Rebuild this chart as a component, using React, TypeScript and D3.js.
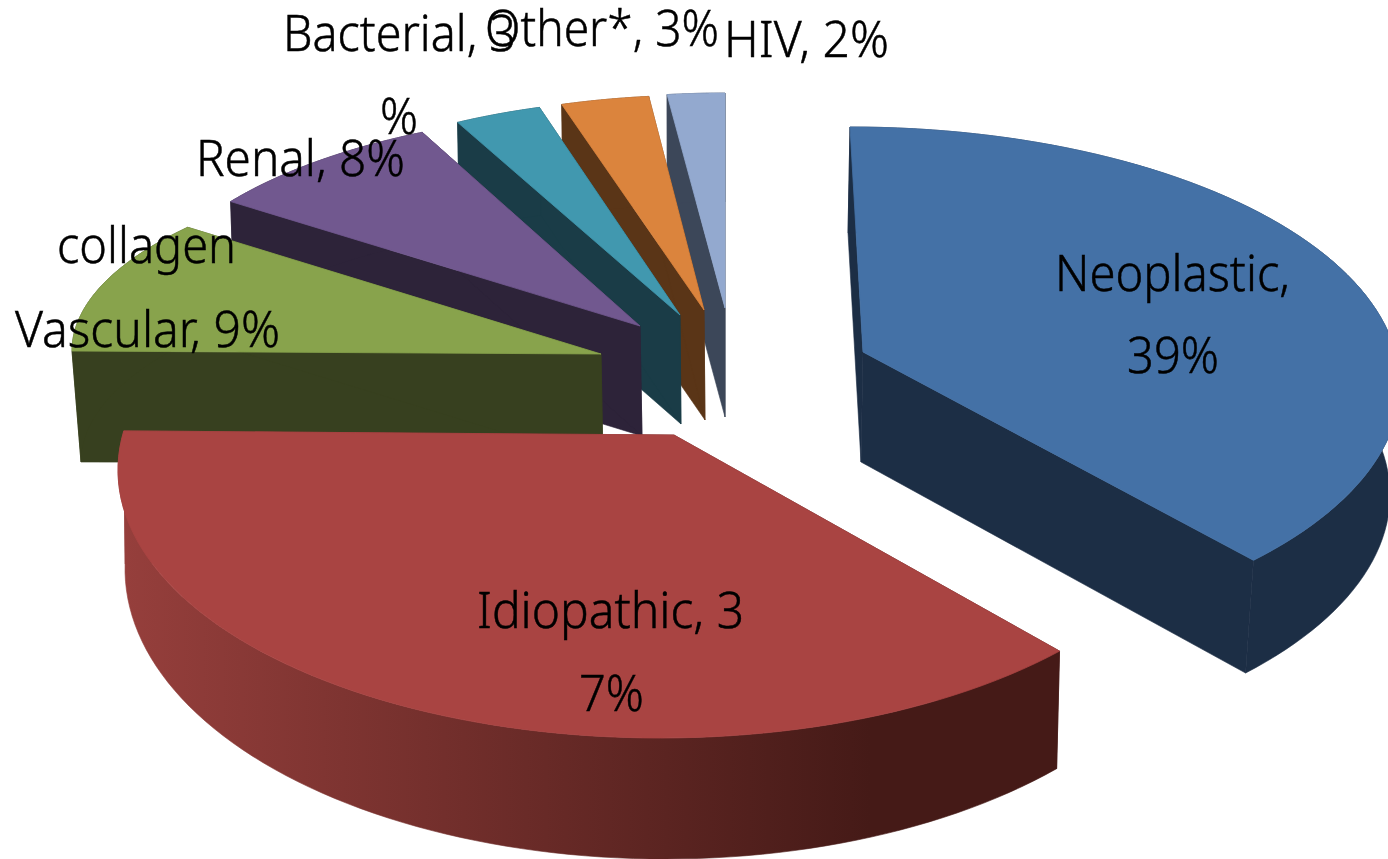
import React from "react";
import * as d3 from "d3";

// ---- data ----
const categories = ["Neoplastic", "Idiopathic", "collagen Vascular", "Renal", "Bacterial", "Other*", "HIV"];
const values = [39, 37, 9, 8, 3, 3, 2];

// ---- colours ----
const topColors = ["#4471a6", "#a94442", "#88a34c", "#71588f", "#4198af", "#db843d", "#93a9cf"];
const sideColors = ["#1c2e45", "url(#redSide)", "#37401f", "#2d2339", "#1a3c47", "#5a3517", "#3c4759"];

// ---- per-slice projection (the picture is a stretched perspective pie) ----
type E = { cx: number; cy: number; rx: number; ry: number };
type Geo = {
  top: E; bottom: E;
  apex: [number, number]; apexBottom: [number, number];
  skew: [number, number]; // degrees added to the pie angles at start / end
  bottomSkew: [number, number]; // extra degrees for the lower rim
};
const geometry: Geo[] = [
  { top: { cx: 850, cy: 385, rx: 550, ry: 258 }, bottom: { cx: 848, cy: 495, rx: 542, ry: 262 }, apex: [863, 352], apexBottom: [861, 462], skew: [0, -6.2], bottomSkew: [0, 0] },
  { top: { cx: 660, cy: 470, rx: 542, ry: 268 }, bottom: { cx: 665, cy: 569, rx: 540, ry: 290 }, apex: [674, 435], apexBottom: [674, 550], skew: [-6.5, 7.5], bottomSkew: [1, -7.4] },
  { top: { cx: 600, cy: 351, rx: 528, ry: 198 }, bottom: { cx: 603, cy: 462, rx: 522, ry: 198 }, apex: [601, 354], apexBottom: [603, 463], skew: [-0.9, 5.7], bottomSkew: [0, 0] },
  { top: { cx: 640, cy: 326, rx: 502, ry: 215 }, bottom: { cx: 642, cy: 435, rx: 500, ry: 215 }, apex: [640, 326], apexBottom: [642, 436], skew: [2.4, 2.8], bottomSkew: [0, 0] },
  { top: { cx: 680, cy: 315, rx: 483, ry: 217 }, bottom: { cx: 681, cy: 423, rx: 481, ry: 217 }, apex: [680, 315], apexBottom: [681, 424], skew: [1.1, 0.9], bottomSkew: [0, 0] },
  { top: { cx: 704, cy: 310, rx: 486, ry: 215 }, bottom: { cx: 705, cy: 420, rx: 484, ry: 215 }, apex: [704, 310], apexBottom: [705, 420], skew: [0.8, 0.6], bottomSkew: [0, 0] },
  { top: { cx: 725, cy: 308, rx: 480, ry: 215 }, bottom: { cx: 725, cy: 417, rx: 478, ry: 215 }, apex: [725, 308], apexBottom: [725, 417], skew: [0.2, 0], bottomSkew: [0, 0] },
];

// ---- labels: text, left x, baseline y, drawn width ----
const labelTexts = ["Bacterial, 3", "%", "Other*, 3%", "HIV, 2%", "Renal, 8%", "collagen", "Vascular, 9%", "Neoplastic,", "39%", "Idiopathic, 3", "7%"];
const labelX = [283, 380, 485, 724, 196, 57, 15, 1055, 1127, 477, 579];
const labelY = [51, 134, 46, 57, 176, 263, 347, 291, 373, 628, 711];
const labelW = [233, 38, 234, 165, 209, 179, 265, 235, 92, 267, 65];

const paintOrder = [6, 5, 4, 3, 2, 0, 1];

const pie = d3.pie<number>().sort(null).value((d) => d)(values);
const line = d3.line<[number, number]>();
const rad = Math.PI / 180;

function ellipsePoint(e: E, t: number): [number, number] {
  return [e.cx + e.rx * Math.sin(t), e.cy - e.ry * Math.cos(t)];
}

function arcPoints(e: E, t0: number, t1: number): [number, number][] {
  const toAngle = d3.scaleLinear().domain([0, 80]).range([t0, t1]);
  return d3.range(81).map((i) => ellipsePoint(e, toAngle(i)));
}

export default function App() {
  return (
    <svg
      width={1388}
      height={859}
      viewBox="0 0 1388 859"
      style={{ position: "absolute", left: 0, top: 0, background: "#fff" }}
    >
      <defs>
        <linearGradient id="redSide" gradientUnits="userSpaceOnUse" x1={120} y1={0} x2={870} y2={0}>
          <stop offset="0" stopColor="#963f3c" />
          <stop offset="1" stopColor="#451a17" />
        </linearGradient>
      </defs>
      {paintOrder.map((i) => {
        const g = geometry[i];
        const s = pie[i];
        const t0 = s.startAngle + g.skew[0] * rad;
        const t1 = s.endAngle + g.skew[1] * rad;
        const topArc = arcPoints(g.top, t0, t1);
        const botArc = arcPoints(g.bottom, t0 + g.bottomSkew[0] * rad, t1 + g.bottomSkew[1] * rad);
        const topStart = topArc[0];
        const topEnd = topArc[topArc.length - 1];
        const botStart = botArc[0];
        const botEnd = botArc[botArc.length - 1];
        const side = sideColors[i];
        const wall = { fill: side, stroke: side, strokeWidth: 0.6, strokeLinejoin: "round" as const };
        return (
          <g key={categories[i]}>
            <path d={line([topStart, g.apex, g.apexBottom, botStart])! + "Z"} {...wall} />
            <path d={line([g.apex, topEnd, botEnd, g.apexBottom])! + "Z"} {...wall} />
            <path d={line([...topArc, ...botArc.slice().reverse()])! + "Z"} {...wall} />
            <path d={line([g.apex, ...topArc])! + "Z"} fill={topColors[i]} stroke={topColors[i]} strokeWidth={0.8} strokeLinejoin="round" />
          </g>
        );
      })}
      <g fontFamily="'Noto Sans', sans-serif" fontSize={50} fontWeight={300} fill="#000" stroke="#000" strokeWidth={0.5}>
        {labelTexts.map((t, i) => (
          <text key={i} x={labelX[i]} y={labelY[i]} textLength={labelW[i]} lengthAdjust="spacingAndGlyphs">
            {t}
          </text>
        ))}
      </g>
    </svg>
  );
}
